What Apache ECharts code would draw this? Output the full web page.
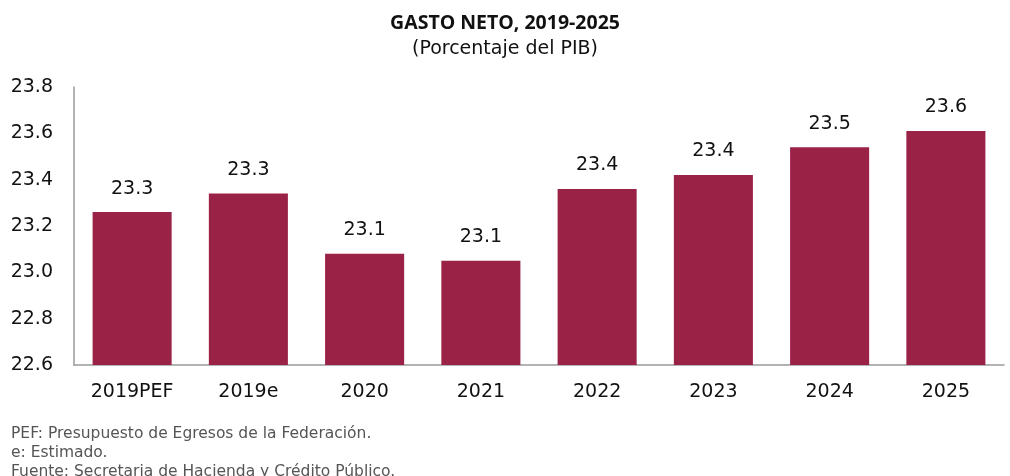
<!DOCTYPE html>
<html>
<head>
<meta charset="utf-8">
<script src="https://cdn.jsdelivr.net/npm/echarts@6/dist/echarts.min.js"></script>
<style>
  html, body { margin: 0; padding: 0; background: #fff; }
  #chart { width: 1010px; height: 476px; }
</style>
</head>
<body>
<div id="chart"></div>
<script>
// Gasto neto del sector público, % del PIB
const categories = ['2019PEF', '2019e', '2020', '2021', '2022', '2023', '2024', '2025'];
const gastoNeto = [23.26, 23.34, 23.08, 23.05, 23.36, 23.42, 23.54, 23.61];
const notes = [
  'PEF: Presupuesto de Egresos de la Federación.',
  'e: Estimado.',
  'Fuente: Secretaria de Hacienda y Crédito Público.'
];

const TITLE_FONT = '"Open Sans", Lato, sans-serif';
const FONT = '"DejaVu Sans", "Open Sans", sans-serif';
const chart = echarts.init(document.getElementById('chart'), null, { renderer: 'canvas' });

chart.setOption({
  animation: false,
  backgroundColor: '#ffffff',
  title: [
    {
      text: 'GASTO NETO, 2019-2025',
      left: 'center', top: 8,
      textStyle: { fontFamily: TITLE_FONT, fontSize: 19.5, fontWeight: 'bold', color: '#111' }
    },
    {
      text: '(Porcentaje del PIB)',
      left: 'center', top: 35,
      textStyle: { fontFamily: FONT, fontSize: 19, fontWeight: 'normal', color: '#111', letterSpacing: 1 }
    },
    {
      text: notes.join('\n'),
      left: 6, top: 419,
      textStyle: { fontFamily: FONT, fontSize: 15.5, fontWeight: 'normal', color: '#555', lineHeight: 19 }
    }
  ],
  grid: { left: 74, right: 6, top: 87, bottom: 111, containLabel: false },
  xAxis: {
    type: 'category',
    data: categories,
    axisLine: { lineStyle: { color: '#9a9a9a', width: 1.5 } },
    axisTick: { show: false },
    axisLabel: { fontFamily: FONT, fontSize: 19, color: '#111', margin: 18, letterSpacing: 0.8 }
  },
  yAxis: {
    type: 'value',
    min: 22.6, max: 23.8, interval: 0.2,
    axisLine: { show: true, lineStyle: { color: '#9a9a9a', width: 1.5 } },
    axisTick: { show: false },
    splitLine: { show: false },
    axisLabel: {
      fontFamily: FONT, fontSize: 19, color: '#111', margin: 21,
      align: 'right',
      formatter: v => v.toFixed(1)
    }
  },
  series: [{
    type: 'bar',
    data: gastoNeto,
    barWidth: '68%',
    itemStyle: { color: '#9B2247' },
    label: {
      show: true, position: 'top', distance: 14,
      fontFamily: FONT, fontSize: 19, color: '#111',
      formatter: p => p.value.toFixed(1)
    }
  }]
});
</script>
</body>
</html>
